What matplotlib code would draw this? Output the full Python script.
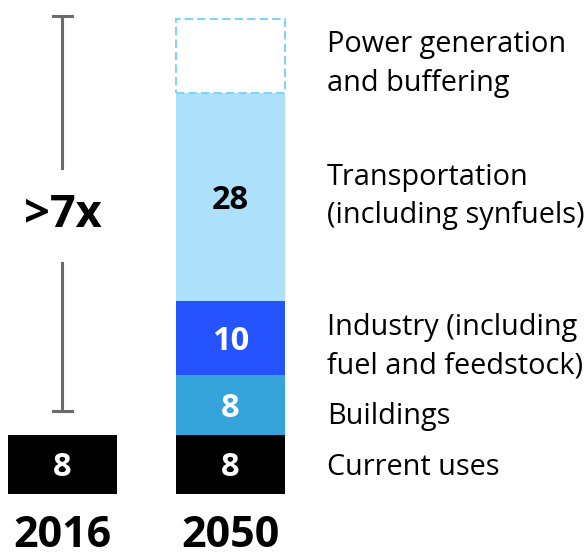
import numpy as np
import matplotlib.pyplot as plt

plt.rcParams['font.family'] = ['Open Sans', 'DejaVu Sans']

# data
years = ['2016', '2050']
current_uses = [8, 8]
segments_2050 = ['Buildings', 'Industry (including\nfuel and feedstock)',
                 'Transportation\n(including synfuels)', 'Power generation\nand buffering']
values_2050 = [8, 10, 28, 10]
labels_2050 = ['8', '10', '28', '']
colors_2050 = ['#35A4DB', '#2553FF', '#ADE1FB', 'white']
multiplier = '>7x'

fig = plt.figure(figsize=(5.87, 5.54), dpi=100)
ax = fig.add_axes([0, 0, 1, 1])
ax.set_xlim(-0.372, 3.122)
ax.set_ylim(-8.07, 66.5)
ax.axis('off')

w = 0.649
x = np.arange(len(years))
label_shift = [-1.5, -1.2, 0.1, -1.1]  # nudges for the side labels
num_shift = -0.45

# current uses (both years)
ax.bar(x, current_uses, width=w, color='black')
for xi, v in zip(x, current_uses):
    ax.text(xi, v / 2 + num_shift, str(v), ha='center', va='center', color='white',
            fontsize=23.5, fontweight='bold')

# 2050 stack
bottom = current_uses[1]
for v, lab, c, name, dy in zip(values_2050, labels_2050, colors_2050, segments_2050, label_shift):
    if name.startswith('Power'):
        ax.bar(1, v, bottom=bottom, width=w, color='white', edgecolor='#80D4F7',
               linestyle=(0, (4, 2)), linewidth=1.5)
    else:
        ax.bar(1, v, bottom=bottom, width=w, color=c)
    tc = 'black' if c == '#ADE1FB' else 'white'
    if lab:
        ax.text(1, bottom + v / 2 + num_shift, lab, ha='center', va='center', color=tc,
                fontsize=23.5, fontweight='bold')
    ax.text(1.574, bottom + v / 2 + dy, name, ha='left', va='center', fontsize=20.8,
            linespacing=1.42)
    bottom += v

ax.text(1.574, current_uses[1] / 2 - 0.4, 'Current uses', ha='left', va='center', fontsize=20.8)

# bracket
total = sum(current_uses[1:]) + sum(values_2050)
top = total + 0.3
low = current_uses[0] + 3.2
mid = (top + low) / 2
ax.plot([0, 0], [top, mid + 6.2], color='#6b6b6b', lw=2.2)
ax.plot([0, 0], [mid - 6.6, low], color='#6b6b6b', lw=2.2)
ax.plot([-0.055, 0.055], [top, top], color='#6b6b6b', lw=2.2)
ax.plot([-0.055, 0.055], [low, low], color='#6b6b6b', lw=2.2)
ax.text(0, mid - 0.3, multiplier, ha='center', va='center', fontsize=32.5, fontweight='bold')

for xi, yr in zip(x, years):
    ax.text(xi, -5.6, yr, ha='center', va='center', fontsize=31, fontweight='bold')

fig.savefig('out.png', dpi=100)
